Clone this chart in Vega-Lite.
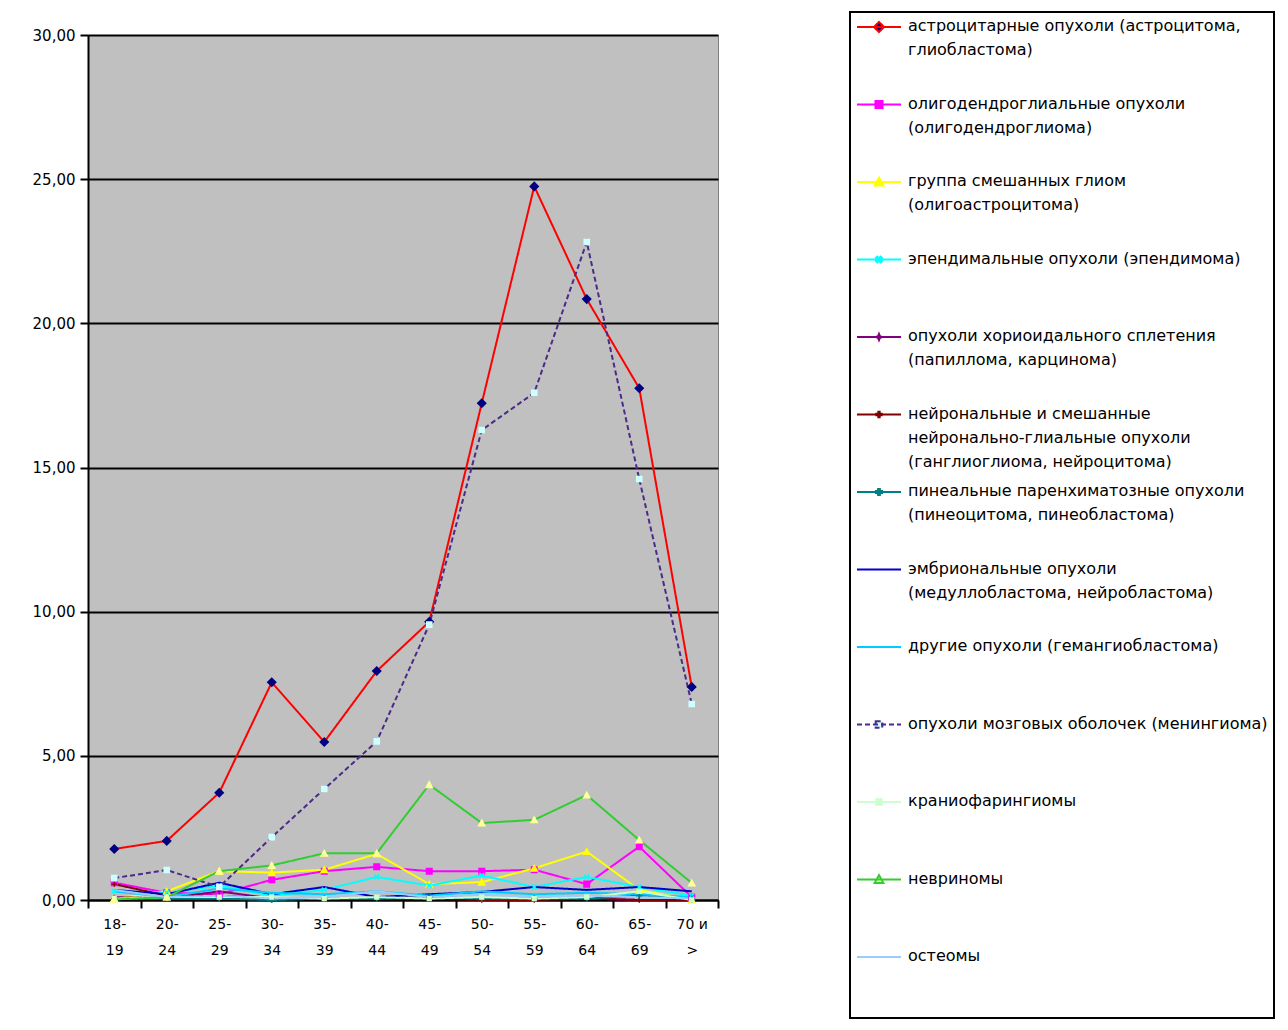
{
  "$schema": "https://vega.github.io/schema/vega-lite/v6.json",
  "width": 630,
  "height": 865,
  "autosize": "none",
  "padding": {"left": 88, "top": 35, "right": 570, "bottom": 130},
  "background": "white",
  "datasets": {
    "rates": [
      {"s": "астроцитарные опухоли (астроцитома, глиобластома)", "a": "18-19", "v": 1.77},
      {"s": "астроцитарные опухоли (астроцитома, глиобластома)", "a": "20-24", "v": 2.05},
      {"s": "астроцитарные опухоли (астроцитома, глиобластома)", "a": "25-29", "v": 3.72},
      {"s": "астроцитарные опухоли (астроцитома, глиобластома)", "a": "30-34", "v": 7.55},
      {"s": "астроцитарные опухоли (астроцитома, глиобластома)", "a": "35-39", "v": 5.48},
      {"s": "астроцитарные опухоли (астроцитома, глиобластома)", "a": "40-44", "v": 7.94},
      {"s": "астроцитарные опухоли (астроцитома, глиобластома)", "a": "45-49", "v": 9.65},
      {"s": "астроцитарные опухоли (астроцитома, глиобластома)", "a": "50-54", "v": 17.23},
      {"s": "астроцитарные опухоли (астроцитома, глиобластома)", "a": "55-59", "v": 24.75},
      {"s": "астроцитарные опухоли (астроцитома, глиобластома)", "a": "60-64", "v": 20.84},
      {"s": "астроцитарные опухоли (астроцитома, глиобластома)", "a": "65-69", "v": 17.75},
      {"s": "астроцитарные опухоли (астроцитома, глиобластома)", "a": "70 и >", "v": 7.39},

      {"s": "олигодендроглиальные опухоли (олигодендроглиома)", "a": "18-19", "v": 0.6},
      {"s": "олигодендроглиальные опухоли (олигодендроглиома)", "a": "20-24", "v": 0.25},
      {"s": "олигодендроглиальные опухоли (олигодендроглиома)", "a": "25-29", "v": 0.2},
      {"s": "олигодендроглиальные опухоли (олигодендроглиома)", "a": "30-34", "v": 0.7},
      {"s": "олигодендроглиальные опухоли (олигодендроглиома)", "a": "35-39", "v": 1.0},
      {"s": "олигодендроглиальные опухоли (олигодендроглиома)", "a": "40-44", "v": 1.15},
      {"s": "олигодендроглиальные опухоли (олигодендроглиома)", "a": "45-49", "v": 1.0},
      {"s": "олигодендроглиальные опухоли (олигодендроглиома)", "a": "50-54", "v": 1.0},
      {"s": "олигодендроглиальные опухоли (олигодендроглиома)", "a": "55-59", "v": 1.05},
      {"s": "олигодендроглиальные опухоли (олигодендроглиома)", "a": "60-64", "v": 0.55},
      {"s": "олигодендроглиальные опухоли (олигодендроглиома)", "a": "65-69", "v": 1.85},
      {"s": "олигодендроглиальные опухоли (олигодендроглиома)", "a": "70 и >", "v": 0.1},

      {"s": "группа смешанных глиом (олигоастроцитома)", "a": "18-19", "v": 0.05},
      {"s": "группа смешанных глиом (олигоастроцитома)", "a": "20-24", "v": 0.3},
      {"s": "группа смешанных глиом (олигоастроцитома)", "a": "25-29", "v": 1.0},
      {"s": "группа смешанных глиом (олигоастроцитома)", "a": "30-34", "v": 0.95},
      {"s": "группа смешанных глиом (олигоастроцитома)", "a": "35-39", "v": 1.05},
      {"s": "группа смешанных глиом (олигоастроцитома)", "a": "40-44", "v": 1.6},
      {"s": "группа смешанных глиом (олигоастроцитома)", "a": "45-49", "v": 0.55},
      {"s": "группа смешанных глиом (олигоастроцитома)", "a": "50-54", "v": 0.62},
      {"s": "группа смешанных глиом (олигоастроцитома)", "a": "55-59", "v": 1.1},
      {"s": "группа смешанных глиом (олигоастроцитома)", "a": "60-64", "v": 1.68},
      {"s": "группа смешанных глиом (олигоастроцитома)", "a": "65-69", "v": 0.35},
      {"s": "группа смешанных глиом (олигоастроцитома)", "a": "70 и >", "v": 0.0},

      {"s": "эпендимальные опухоли (эпендимома)", "a": "18-19", "v": 0.3},
      {"s": "эпендимальные опухоли (эпендимома)", "a": "20-24", "v": 0.25},
      {"s": "эпендимальные опухоли (эпендимома)", "a": "25-29", "v": 0.5},
      {"s": "эпендимальные опухоли (эпендимома)", "a": "30-34", "v": 0.15},
      {"s": "эпендимальные опухоли (эпендимома)", "a": "35-39", "v": 0.35},
      {"s": "эпендимальные опухоли (эпендимома)", "a": "40-44", "v": 0.8},
      {"s": "эпендимальные опухоли (эпендимома)", "a": "45-49", "v": 0.5},
      {"s": "эпендимальные опухоли (эпендимома)", "a": "50-54", "v": 0.85},
      {"s": "эпендимальные опухоли (эпендимома)", "a": "55-59", "v": 0.45},
      {"s": "эпендимальные опухоли (эпендимома)", "a": "60-64", "v": 0.8},
      {"s": "эпендимальные опухоли (эпендимома)", "a": "65-69", "v": 0.45},
      {"s": "эпендимальные опухоли (эпендимома)", "a": "70 и >", "v": 0.15},

      {"s": "опухоли хориоидального сплетения (папиллома, карцинома)", "a": "18-19", "v": 0.1},
      {"s": "опухоли хориоидального сплетения (папиллома, карцинома)", "a": "20-24", "v": 0.05},
      {"s": "опухоли хориоидального сплетения (папиллома, карцинома)", "a": "25-29", "v": 0.3},
      {"s": "опухоли хориоидального сплетения (папиллома, карцинома)", "a": "30-34", "v": 0.05},
      {"s": "опухоли хориоидального сплетения (папиллома, карцинома)", "a": "35-39", "v": 0.05},
      {"s": "опухоли хориоидального сплетения (папиллома, карцинома)", "a": "40-44", "v": 0.05},
      {"s": "опухоли хориоидального сплетения (папиллома, карцинома)", "a": "45-49", "v": 0.1},
      {"s": "опухоли хориоидального сплетения (папиллома, карцинома)", "a": "50-54", "v": 0.05},
      {"s": "опухоли хориоидального сплетения (папиллома, карцинома)", "a": "55-59", "v": 0.05},
      {"s": "опухоли хориоидального сплетения (папиллома, карцинома)", "a": "60-64", "v": 0.05},
      {"s": "опухоли хориоидального сплетения (папиллома, карцинома)", "a": "65-69", "v": 0.0},
      {"s": "опухоли хориоидального сплетения (папиллома, карцинома)", "a": "70 и >", "v": 0.0},

      {"s": "нейрональные и смешанные нейронально-глиальные опухоли (ганглиоглиома, нейроцитома)", "a": "18-19", "v": 0.55},
      {"s": "нейрональные и смешанные нейронально-глиальные опухоли (ганглиоглиома, нейроцитома)", "a": "20-24", "v": 0.15},
      {"s": "нейрональные и смешанные нейронально-глиальные опухоли (ганглиоглиома, нейроцитома)", "a": "25-29", "v": 0.15},
      {"s": "нейрональные и смешанные нейронально-глиальные опухоли (ганглиоглиома, нейроцитома)", "a": "30-34", "v": 0.05},
      {"s": "нейрональные и смешанные нейронально-глиальные опухоли (ганглиоглиома, нейроцитома)", "a": "35-39", "v": 0.05},
      {"s": "нейрональные и смешанные нейронально-глиальные опухоли (ганглиоглиома, нейроцитома)", "a": "40-44", "v": 0.05},
      {"s": "нейрональные и смешанные нейронально-глиальные опухоли (ганглиоглиома, нейроцитома)", "a": "45-49", "v": 0.05},
      {"s": "нейрональные и смешанные нейронально-глиальные опухоли (ганглиоглиома, нейроцитома)", "a": "50-54", "v": 0.0},
      {"s": "нейрональные и смешанные нейронально-глиальные опухоли (ганглиоглиома, нейроцитома)", "a": "55-59", "v": 0.0},
      {"s": "нейрональные и смешанные нейронально-глиальные опухоли (ганглиоглиома, нейроцитома)", "a": "60-64", "v": 0.05},
      {"s": "нейрональные и смешанные нейронально-глиальные опухоли (ганглиоглиома, нейроцитома)", "a": "65-69", "v": 0.0},
      {"s": "нейрональные и смешанные нейронально-глиальные опухоли (ганглиоглиома, нейроцитома)", "a": "70 и >", "v": 0.0},

      {"s": "пинеальные паренхиматозные опухоли (пинеоцитома, пинеобластома)", "a": "18-19", "v": 0.05},
      {"s": "пинеальные паренхиматозные опухоли (пинеоцитома, пинеобластома)", "a": "20-24", "v": 0.05},
      {"s": "пинеальные паренхиматозные опухоли (пинеоцитома, пинеобластома)", "a": "25-29", "v": 0.05},
      {"s": "пинеальные паренхиматозные опухоли (пинеоцитома, пинеобластома)", "a": "30-34", "v": 0.0},
      {"s": "пинеальные паренхиматозные опухоли (пинеоцитома, пинеобластома)", "a": "35-39", "v": 0.05},
      {"s": "пинеальные паренхиматозные опухоли (пинеоцитома, пинеобластома)", "a": "40-44", "v": 0.05},
      {"s": "пинеальные паренхиматозные опухоли (пинеоцитома, пинеобластома)", "a": "45-49", "v": 0.1},
      {"s": "пинеальные паренхиматозные опухоли (пинеоцитома, пинеобластома)", "a": "50-54", "v": 0.05},
      {"s": "пинеальные паренхиматозные опухоли (пинеоцитома, пинеобластома)", "a": "55-59", "v": 0.05},
      {"s": "пинеальные паренхиматозные опухоли (пинеоцитома, пинеобластома)", "a": "60-64", "v": 0.05},
      {"s": "пинеальные паренхиматозные опухоли (пинеоцитома, пинеобластома)", "a": "65-69", "v": 0.15},
      {"s": "пинеальные паренхиматозные опухоли (пинеоцитома, пинеобластома)", "a": "70 и >", "v": 0.05},

      {"s": "эмбриональные опухоли (медуллобластома, нейробластома)", "a": "18-19", "v": 0.35},
      {"s": "эмбриональные опухоли (медуллобластома, нейробластома)", "a": "20-24", "v": 0.2},
      {"s": "эмбриональные опухоли (медуллобластома, нейробластома)", "a": "25-29", "v": 0.6},
      {"s": "эмбриональные опухоли (медуллобластома, нейробластома)", "a": "30-34", "v": 0.2},
      {"s": "эмбриональные опухоли (медуллобластома, нейробластома)", "a": "35-39", "v": 0.45},
      {"s": "эмбриональные опухоли (медуллобластома, нейробластома)", "a": "40-44", "v": 0.1},
      {"s": "эмбриональные опухоли (медуллобластома, нейробластома)", "a": "45-49", "v": 0.2},
      {"s": "эмбриональные опухоли (медуллобластома, нейробластома)", "a": "50-54", "v": 0.28},
      {"s": "эмбриональные опухоли (медуллобластома, нейробластома)", "a": "55-59", "v": 0.45},
      {"s": "эмбриональные опухоли (медуллобластома, нейробластома)", "a": "60-64", "v": 0.35},
      {"s": "эмбриональные опухоли (медуллобластома, нейробластома)", "a": "65-69", "v": 0.45},
      {"s": "эмбриональные опухоли (медуллобластома, нейробластома)", "a": "70 и >", "v": 0.3},

      {"s": "другие опухоли (гемангиобластома)", "a": "18-19", "v": 0.3},
      {"s": "другие опухоли (гемангиобластома)", "a": "20-24", "v": 0.1},
      {"s": "другие опухоли (гемангиобластома)", "a": "25-29", "v": 0.4},
      {"s": "другие опухоли (гемангиобластома)", "a": "30-34", "v": 0.25},
      {"s": "другие опухоли (гемангиобластома)", "a": "35-39", "v": 0.2},
      {"s": "другие опухоли (гемангиобластома)", "a": "40-44", "v": 0.3},
      {"s": "другие опухоли (гемангиобластома)", "a": "45-49", "v": 0.15},
      {"s": "другие опухоли (гемангиобластома)", "a": "50-54", "v": 0.3},
      {"s": "другие опухоли (гемангиобластома)", "a": "55-59", "v": 0.2},
      {"s": "другие опухоли (гемангиобластома)", "a": "60-64", "v": 0.25},
      {"s": "другие опухоли (гемангиобластома)", "a": "65-69", "v": 0.2},
      {"s": "другие опухоли (гемангиобластома)", "a": "70 и >", "v": 0.1},

      {"s": "опухоли мозговых оболочек (менингиома)", "a": "18-19", "v": 0.76},
      {"s": "опухоли мозговых оболочек (менингиома)", "a": "20-24", "v": 1.04},
      {"s": "опухоли мозговых оболочек (менингиома)", "a": "25-29", "v": 0.45},
      {"s": "опухоли мозговых оболочек (менингиома)", "a": "30-34", "v": 2.18},
      {"s": "опухоли мозговых оболочек (менингиома)", "a": "35-39", "v": 3.85},
      {"s": "опухоли мозговых оболочек (менингиома)", "a": "40-44", "v": 5.5},
      {"s": "опухоли мозговых оболочек (менингиома)", "a": "45-49", "v": 9.55},
      {"s": "опухоли мозговых оболочек (менингиома)", "a": "50-54", "v": 16.3},
      {"s": "опухоли мозговых оболочек (менингиома)", "a": "55-59", "v": 17.59},
      {"s": "опухоли мозговых оболочек (менингиома)", "a": "60-64", "v": 22.82},
      {"s": "опухоли мозговых оболочек (менингиома)", "a": "65-69", "v": 14.6},
      {"s": "опухоли мозговых оболочек (менингиома)", "a": "70 и >", "v": 6.8},

      {"s": "краниофарингиомы", "a": "18-19", "v": 0.05},
      {"s": "краниофарингиомы", "a": "20-24", "v": 0.1},
      {"s": "краниофарингиомы", "a": "25-29", "v": 0.1},
      {"s": "краниофарингиомы", "a": "30-34", "v": 0.1},
      {"s": "краниофарингиомы", "a": "35-39", "v": 0.05},
      {"s": "краниофарингиомы", "a": "40-44", "v": 0.1},
      {"s": "краниофарингиомы", "a": "45-49", "v": 0.05},
      {"s": "краниофарингиомы", "a": "50-54", "v": 0.1},
      {"s": "краниофарингиомы", "a": "55-59", "v": 0.05},
      {"s": "краниофарингиомы", "a": "60-64", "v": 0.1},
      {"s": "краниофарингиомы", "a": "65-69", "v": 0.3},
      {"s": "краниофарингиомы", "a": "70 и >", "v": 0.0},

      {"s": "невриномы", "a": "18-19", "v": 0.02},
      {"s": "невриномы", "a": "20-24", "v": 0.1},
      {"s": "невриномы", "a": "25-29", "v": 1.0},
      {"s": "невриномы", "a": "30-34", "v": 1.2},
      {"s": "невриномы", "a": "35-39", "v": 1.62},
      {"s": "невриномы", "a": "40-44", "v": 1.62},
      {"s": "невриномы", "a": "45-49", "v": 4.0},
      {"s": "невриномы", "a": "50-54", "v": 2.67},
      {"s": "невриномы", "a": "55-59", "v": 2.78},
      {"s": "невриномы", "a": "60-64", "v": 3.64},
      {"s": "невриномы", "a": "65-69", "v": 2.08},
      {"s": "невриномы", "a": "70 и >", "v": 0.59},

      {"s": "остеомы", "a": "18-19", "v": 0.35},
      {"s": "остеомы", "a": "20-24", "v": 0.1},
      {"s": "остеомы", "a": "25-29", "v": 0.15},
      {"s": "остеомы", "a": "30-34", "v": 0.05},
      {"s": "остеомы", "a": "35-39", "v": 0.1},
      {"s": "остеомы", "a": "40-44", "v": 0.3},
      {"s": "остеомы", "a": "45-49", "v": 0.1},
      {"s": "остеомы", "a": "50-54", "v": 0.2},
      {"s": "остеомы", "a": "55-59", "v": 0.1},
      {"s": "остеомы", "a": "60-64", "v": 0.15},
      {"s": "остеомы", "a": "65-69", "v": 0.1},
      {"s": "остеомы", "a": "70 и >", "v": 0.05}
    ]
  },
  "data": {"name": "rates"},
  "encoding": {
    "x": {
      "field": "a",
      "type": "ordinal",
      "sort": ["18-19", "20-24", "25-29", "30-34", "35-39", "40-44", "45-49", "50-54", "55-59", "60-64", "65-69", "70 и >"],
      "scale": {"type": "band", "paddingInner": 0, "paddingOuter": 0},
      "axis": {
        "title": null,
        "labelAngle": 0,
        "labelExpr": "!isString(datum.value) ? '' : datum.value == '70 и >' ? ['70 и', '>'] : [split(datum.value, '-')[0] + '-', split(datum.value, '-')[1]]",
        "tickBand": "extent",
        "tickSize": 8,
        "tickWidth": 2,
        "tickColor": "black",
        "domainColor": "black",
        "domainWidth": 2,
        "labelFont": "DejaVu Sans",
        "labelFontSize": 14,
        "labelColor": "black",
        "labelLineHeight": 26,
        "labelBaseline": "top",
        "labelPadding": 9,
        "grid": false
      }
    },
    "y": {
      "field": "v",
      "type": "quantitative",
      "scale": {"domain": [0, 30], "nice": false},
      "axis": {
        "title": null,
        "values": [0, 5, 10, 15, 20, 25, 30],
        "labelExpr": "replace(format(datum.value, '.2f'), '.', ',')",
        "tickSize": 8,
        "tickWidth": 2,
        "tickColor": "black",
        "domainColor": "black",
        "domainWidth": 2,
        "grid": true,
        "gridColor": "black",
        "gridWidth": 2,
        "gridOpacity": 1,
        "labelFont": "DejaVu Sans",
        "labelFontSize": 15,
        "labelColor": "black",
        "labelPadding": 5
      }
    }
  },
  "layer": [
    {
      "mark": {"type": "line", "strokeWidth": 2},
      "encoding": {
        "stroke": {
          "field": "s",
          "type": "nominal",
          "scale": {
            "domain": ["астроцитарные опухоли (астроцитома, глиобластома)", "олигодендроглиальные опухоли (олигодендроглиома)", "группа смешанных глиом (олигоастроцитома)", "эпендимальные опухоли (эпендимома)", "опухоли хориоидального сплетения (папиллома, карцинома)", "нейрональные и смешанные нейронально-глиальные опухоли (ганглиоглиома, нейроцитома)", "пинеальные паренхиматозные опухоли (пинеоцитома, пинеобластома)", "эмбриональные опухоли (медуллобластома, нейробластома)", "другие опухоли (гемангиобластома)", "опухоли мозговых оболочек (менингиома)", "краниофарингиомы", "невриномы", "остеомы"],
            "range": ["#FF0000", "#FF00FF", "#FFFF00", "#00FFFF", "#800080", "#800000", "#008080", "#0000CC", "#00CCFF", "#4B2A8A", "#CCFFCC", "#33CC33", "#99CCFF"]
          },
          "legend": {
            "title": null,
            "orient": "none",
            "legendX": 762,
            "legendY": -23,
            "labelExpr": "datum.value == 'астроцитарные опухоли (астроцитома, глиобластома)' ? ['астроцитарные опухоли (астроцитома,', 'глиобластома)'] : datum.value == 'олигодендроглиальные опухоли (олигодендроглиома)' ? ['олигодендроглиальные опухоли', '(олигодендроглиома)'] : datum.value == 'группа смешанных глиом (олигоастроцитома)' ? ['группа смешанных глиом', '(олигоастроцитома)'] : datum.value == 'опухоли хориоидального сплетения (папиллома, карцинома)' ? ['опухоли хориоидального сплетения', '(папиллома, карцинома)'] : datum.value == 'нейрональные и смешанные нейронально-глиальные опухоли (ганглиоглиома, нейроцитома)' ? ['нейрональные и смешанные', 'нейронально-глиальные опухоли', '(ганглиоглиома, нейроцитома)'] : datum.value == 'пинеальные паренхиматозные опухоли (пинеоцитома, пинеобластома)' ? ['пинеальные паренхиматозные опухоли', '(пинеоцитома, пинеобластома)'] : datum.value == 'эмбриональные опухоли (медуллобластома, нейробластома)' ? ['эмбриональные опухоли', '(медуллобластома, нейробластома)'] : datum.value == 'остеомы' ? ['остеомы', '', ''] : datum.value",
            "encode": {"labels": {"update": {"y": {"value": 0}, "dy": {"value": 0}, "lineHeight": {"value": 24}}}, "symbols": {"update": {"y": {"value": 9}, "strokeWidth": {"value": 2}}}}
          }
        },
        "strokeDash": {
          "field": "s",
          "type": "nominal",
          "scale": {
            "domain": ["астроцитарные опухоли (астроцитома, глиобластома)", "олигодендроглиальные опухоли (олигодендроглиома)", "группа смешанных глиом (олигоастроцитома)", "эпендимальные опухоли (эпендимома)", "опухоли хориоидального сплетения (папиллома, карцинома)", "нейрональные и смешанные нейронально-глиальные опухоли (ганглиоглиома, нейроцитома)", "пинеальные паренхиматозные опухоли (пинеоцитома, пинеобластома)", "эмбриональные опухоли (медуллобластома, нейробластома)", "другие опухоли (гемангиобластома)", "опухоли мозговых оболочек (менингиома)", "краниофарингиомы", "невриномы", "остеомы"],
            "range": [[1, 0], [1, 0], [1, 0], [1, 0], [1, 0], [1, 0], [1, 0], [1, 0], [1, 0], [5, 3], [1, 0], [1, 0], [1, 0]]
          },
          "legend": {
            "title": null,
            "orient": "none",
            "legendX": 762,
            "legendY": -23,
            "labelExpr": "datum.value == 'астроцитарные опухоли (астроцитома, глиобластома)' ? ['астроцитарные опухоли (астроцитома,', 'глиобластома)'] : datum.value == 'олигодендроглиальные опухоли (олигодендроглиома)' ? ['олигодендроглиальные опухоли', '(олигодендроглиома)'] : datum.value == 'группа смешанных глиом (олигоастроцитома)' ? ['группа смешанных глиом', '(олигоастроцитома)'] : datum.value == 'опухоли хориоидального сплетения (папиллома, карцинома)' ? ['опухоли хориоидального сплетения', '(папиллома, карцинома)'] : datum.value == 'нейрональные и смешанные нейронально-глиальные опухоли (ганглиоглиома, нейроцитома)' ? ['нейрональные и смешанные', 'нейронально-глиальные опухоли', '(ганглиоглиома, нейроцитома)'] : datum.value == 'пинеальные паренхиматозные опухоли (пинеоцитома, пинеобластома)' ? ['пинеальные паренхиматозные опухоли', '(пинеоцитома, пинеобластома)'] : datum.value == 'эмбриональные опухоли (медуллобластома, нейробластома)' ? ['эмбриональные опухоли', '(медуллобластома, нейробластома)'] : datum.value == 'остеомы' ? ['остеомы', '', ''] : datum.value",
            "encode": {"labels": {"update": {"y": {"value": 0}, "dy": {"value": 0}, "lineHeight": {"value": 24}}}, "symbols": {"update": {"y": {"value": 9}, "strokeWidth": {"value": 2}}}}
          }
        }
      }
    },
    {
      "mark": {"type": "point", "filled": true, "size": 1936, "strokeWidth": 0, "opacity": 1},
      "encoding": {
        "fill": {
          "field": "s",
          "type": "nominal",
          "scale": {
            "domain": ["астроцитарные опухоли (астроцитома, глиобластома)", "олигодендроглиальные опухоли (олигодендроглиома)", "группа смешанных глиом (олигоастроцитома)", "эпендимальные опухоли (эпендимома)", "опухоли хориоидального сплетения (папиллома, карцинома)", "нейрональные и смешанные нейронально-глиальные опухоли (ганглиоглиома, нейроцитома)", "пинеальные паренхиматозные опухоли (пинеоцитома, пинеобластома)", "эмбриональные опухоли (медуллобластома, нейробластома)", "другие опухоли (гемангиобластома)", "опухоли мозговых оболочек (менингиома)", "краниофарингиомы", "невриномы", "остеомы"],
            "range": ["#000080", "#FF00FF", "#FFFF00", "#00FFFF", "#800080", "#800000", "#008080", "#0000CC", "#00CCFF", "#CCFFFF", "#CCFFCC", "#FFFF99", "#99CCFF"]
          },
          "legend": {
            "title": null,
            "orient": "none",
            "legendX": 762,
            "legendY": -23,
            "labelExpr": "datum.value == 'астроцитарные опухоли (астроцитома, глиобластома)' ? ['астроцитарные опухоли (астроцитома,', 'глиобластома)'] : datum.value == 'олигодендроглиальные опухоли (олигодендроглиома)' ? ['олигодендроглиальные опухоли', '(олигодендроглиома)'] : datum.value == 'группа смешанных глиом (олигоастроцитома)' ? ['группа смешанных глиом', '(олигоастроцитома)'] : datum.value == 'опухоли хориоидального сплетения (папиллома, карцинома)' ? ['опухоли хориоидального сплетения', '(папиллома, карцинома)'] : datum.value == 'нейрональные и смешанные нейронально-глиальные опухоли (ганглиоглиома, нейроцитома)' ? ['нейрональные и смешанные', 'нейронально-глиальные опухоли', '(ганглиоглиома, нейроцитома)'] : datum.value == 'пинеальные паренхиматозные опухоли (пинеоцитома, пинеобластома)' ? ['пинеальные паренхиматозные опухоли', '(пинеоцитома, пинеобластома)'] : datum.value == 'эмбриональные опухоли (медуллобластома, нейробластома)' ? ['эмбриональные опухоли', '(медуллобластома, нейробластома)'] : datum.value == 'остеомы' ? ['остеомы', '', ''] : datum.value",
            "encode": {"labels": {"update": {"y": {"value": 0}, "dy": {"value": 0}, "lineHeight": {"value": 24}}}, "symbols": {"update": {"y": {"value": 9}, "strokeWidth": {"value": 2}}}}
          }
        },
        "shape": {
          "field": "s",
          "type": "nominal",
          "scale": {
            "domain": ["астроцитарные опухоли (астроцитома, глиобластома)", "олигодендроглиальные опухоли (олигодендроглиома)", "группа смешанных глиом (олигоастроцитома)", "эпендимальные опухоли (эпендимома)", "опухоли хориоидального сплетения (папиллома, карцинома)", "нейрональные и смешанные нейронально-глиальные опухоли (ганглиоглиома, нейроцитома)", "пинеальные паренхиматозные опухоли (пинеоцитома, пинеобластома)", "эмбриональные опухоли (медуллобластома, нейробластома)", "другие опухоли (гемангиобластома)", "опухоли мозговых оболочек (менингиома)", "краниофарингиомы", "невриномы", "остеомы"],
            "range": [
              "M-1,0H1M0,-0.23L0.23,0L0,0.23L-0.23,0Z",
              "M-1,0H1M-0.16,-0.16H0.16V0.16H-0.16Z",
              "M-1,0H1M0,-0.2L0.2,0.16H-0.2Z",
              "M-1,0H1M0.078,-0.134L0.134,-0.078L0.057,0L0.134,0.078L0.078,0.134L0,0.057L-0.078,0.134L-0.134,0.078L-0.057,0L-0.134,-0.078L-0.078,-0.134L0,-0.057Z",
              "M-1,0H1M0,-0.14L0.04,-0.04L0.14,0L0.04,0.04L0,0.14L-0.04,0.04L-0.14,0L-0.04,-0.04Z",
              "M-1,0H1M-0.03,-0.12H0.03V-0.03H0.12V0.03H0.03V0.12H-0.03V0.03H-0.12V-0.03H-0.03Z",
              "M-1,0H1M-0.04,-0.14H0.04V-0.04H0.14V0.04H0.04V0.14H-0.04V0.04H-0.14V-0.04H-0.04Z",
              "M-1,0H1",
              "M-1,0H1",
              "M-1,0H1M-0.15,-0.15H0.15V0.15H-0.15Z",
              "M-1,0H1M-0.12,-0.12H0.12V0.12H-0.12Z",
              "M-1,0H1M0,-0.2L0.2,0.16H-0.2Z",
              "M-1,0H1"
            ]
          },
          "legend": {
            "title": null,
            "orient": "none",
            "legendX": 762,
            "legendY": -23,
            "labelExpr": "datum.value == 'астроцитарные опухоли (астроцитома, глиобластома)' ? ['астроцитарные опухоли (астроцитома,', 'глиобластома)'] : datum.value == 'олигодендроглиальные опухоли (олигодендроглиома)' ? ['олигодендроглиальные опухоли', '(олигодендроглиома)'] : datum.value == 'группа смешанных глиом (олигоастроцитома)' ? ['группа смешанных глиом', '(олигоастроцитома)'] : datum.value == 'опухоли хориоидального сплетения (папиллома, карцинома)' ? ['опухоли хориоидального сплетения', '(папиллома, карцинома)'] : datum.value == 'нейрональные и смешанные нейронально-глиальные опухоли (ганглиоглиома, нейроцитома)' ? ['нейрональные и смешанные', 'нейронально-глиальные опухоли', '(ганглиоглиома, нейроцитома)'] : datum.value == 'пинеальные паренхиматозные опухоли (пинеоцитома, пинеобластома)' ? ['пинеальные паренхиматозные опухоли', '(пинеоцитома, пинеобластома)'] : datum.value == 'эмбриональные опухоли (медуллобластома, нейробластома)' ? ['эмбриональные опухоли', '(медуллобластома, нейробластома)'] : datum.value == 'остеомы' ? ['остеомы', '', ''] : datum.value",
            "encode": {"labels": {"update": {"y": {"value": 0}, "dy": {"value": 0}, "lineHeight": {"value": 24}}}, "symbols": {"update": {"y": {"value": 9}, "strokeWidth": {"value": 2}}}}
          }
        }
      }
    }
  ],
  "config": {
    "view": {"fill": "#C0C0C0", "stroke": "#808080", "strokeWidth": 1},
    "legend": {
      "strokeColor": "black",
      "strokeWidth": 2,
      "fillColor": "white",
      "padding": 6,
      "symbolSize": 1936,
      "symbolStrokeWidth": 2,
      "symbolOffset": 0,
      "labelFont": "DejaVu Sans",
      "labelFontSize": 16,
      "labelColor": "black",
      "labelLimit": 800,
      "labelOffset": 6,
      "labelBaseline": "top",
      "rowPadding": 13.5,
      "gridAlign": "all"
    }
  }
}
